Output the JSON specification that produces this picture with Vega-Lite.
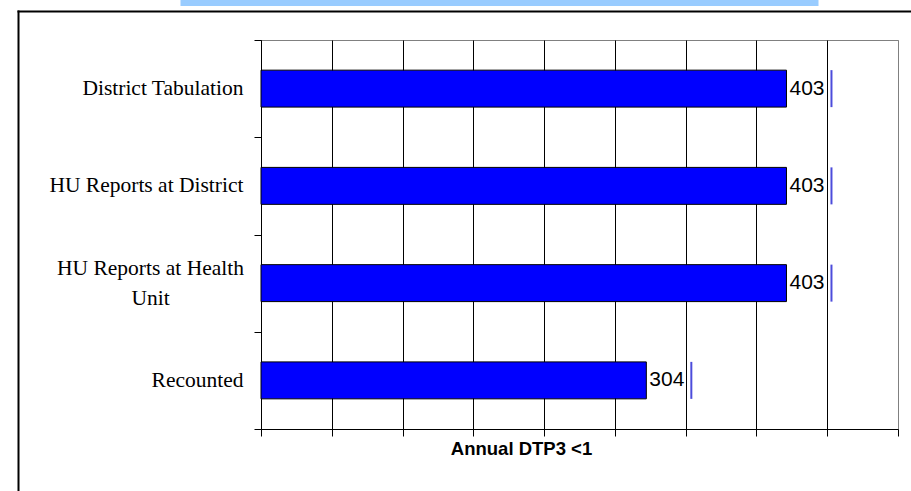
{
  "$schema": "https://vega.github.io/schema/vega-lite/v6.json",
  "width": 637,
  "height": 389,
  "autosize": {"type": "none"},
  "padding": {"left": 261, "top": 40, "right": 13, "bottom": 62},
  "background": "white",
  "config": {
    "view": {"stroke": "#808080", "strokeWidth": 1},
    "axis": {"domainColor": "black", "domainWidth": 1, "tickColor": "black", "tickWidth": 1}
  },
  "data": {
    "values": [
      {"source": "District Tabulation", "dtp3": 403},
      {"source": "HU Reports at District", "dtp3": 403},
      {"source": "HU Reports at Health Unit", "dtp3": 403},
      {"source": "Recounted", "dtp3": 304}
    ]
  },
  "layer": [
    {
      "encoding": {
        "y": {
          "field": "source",
          "type": "nominal",
          "sort": null,
          "scale": {"paddingInner": 0, "paddingOuter": 0},
          "axis": {
            "title": null,
            "tickBand": "extent",
            "tickSize": 7,
            "labelFont": "Liberation Serif",
            "labelFontSize": 21.5,
            "labelColor": "black",
            "labelLimit": 0,
            "labelBaseline": "middle",
            "labelLineHeight": 30,
            "labelExpr": "datum.label === 'HU Reports at Health Unit' ? ['HU Reports at Health', 'Unit'] : datum.label",
            "labelAlign": {"condition": {"test": "datum.value === 'HU Reports at Health Unit'", "value": "center"}, "value": "right"},
            "labelPadding": {"condition": {"test": "datum.value === 'HU Reports at Health Unit'", "value": 104}, "value": 11},
            "labelOffset": {"condition": {"test": "datum.value === 'HU Reports at Health Unit'", "value": -15}, "value": 0},
            "grid": false
          }
        },
        "x": {
          "field": "dtp3",
          "type": "quantitative",
          "scale": {"domain": [0, 450], "nice": false},
          "axis": {
            "title": "Annual DTP3 <1",
            "values": [0, 50, 100, 150, 200, 250, 300, 350, 400, 450],
            "labels": false,
            "tickSize": 7,
            "grid": true,
            "gridWidth": 1,
            "gridColor": {"condition": {"test": "datum.value === 450", "value": "#808080"}, "value": "black"},
            "titleFont": "Liberation Sans",
            "titleFontSize": 18.5,
            "titleFontWeight": "bold",
            "titleColor": "black",
            "titleAlign": "center",
            "titleBaseline": "alphabetic",
            "titleX": 260,
            "titleY": 25
          }
        }
      },
      "layer": [
        {
          "mark": {"type": "bar", "fill": "#0000ff", "stroke": "black", "strokeWidth": 1, "height": {"band": 0.38}, "x2Offset": -45},
          "encoding": {
            "x": {"datum": 0, "type": "quantitative"},
            "x2": {"field": "dtp3"}
          }
        },
        {
          "mark": {"type": "text", "align": "left", "baseline": "middle", "xOffset": -42, "font": "Liberation Sans", "fontSize": 21, "color": "black"},
          "encoding": {"text": {"field": "dtp3", "type": "quantitative"}}
        },
        {
          "mark": {"type": "tick", "orient": "vertical", "size": 37, "thickness": 2, "color": "#0000cc"}
        }
      ]
    },
    {
      "description": "Chart-area border: left and top edges drawn as axis domain lines.",
      "mark": {"type": "point", "opacity": 0},
      "encoding": {
        "x": {
          "field": "dtp3",
          "type": "quantitative",
          "scale": {"domain": [0, 1], "range": [-244, 700]},
          "axis": {"orient": "top", "offset": 29, "domainWidth": 2, "domainColor": "black", "ticks": false, "labels": false, "grid": false, "title": null}
        },
        "y": {
          "field": "dtp3",
          "type": "quantitative",
          "scale": {"domain": [0, 1], "range": [-30, 470]},
          "axis": {"orient": "left", "offset": 243, "domainWidth": 2, "domainColor": "black", "ticks": false, "labels": false, "grid": false, "title": null}
        }
      }
    },
    {
      "description": "Light-blue strip of the page heading box above the chart area.",
      "mark": {"type": "point", "opacity": 0},
      "encoding": {
        "x": {
          "field": "dtp3",
          "type": "quantitative",
          "scale": {"domain": [0, 1], "range": [-81, 557]},
          "axis": {"orient": "top", "offset": 40, "domainWidth": 11, "domainColor": "#99ccff", "ticks": false, "labels": false, "grid": false, "title": null}
        }
      }
    }
  ],
  "resolve": {
    "scale": {"x": "independent", "y": "independent"},
    "axis": {"x": "independent", "y": "independent"}
  }
}
